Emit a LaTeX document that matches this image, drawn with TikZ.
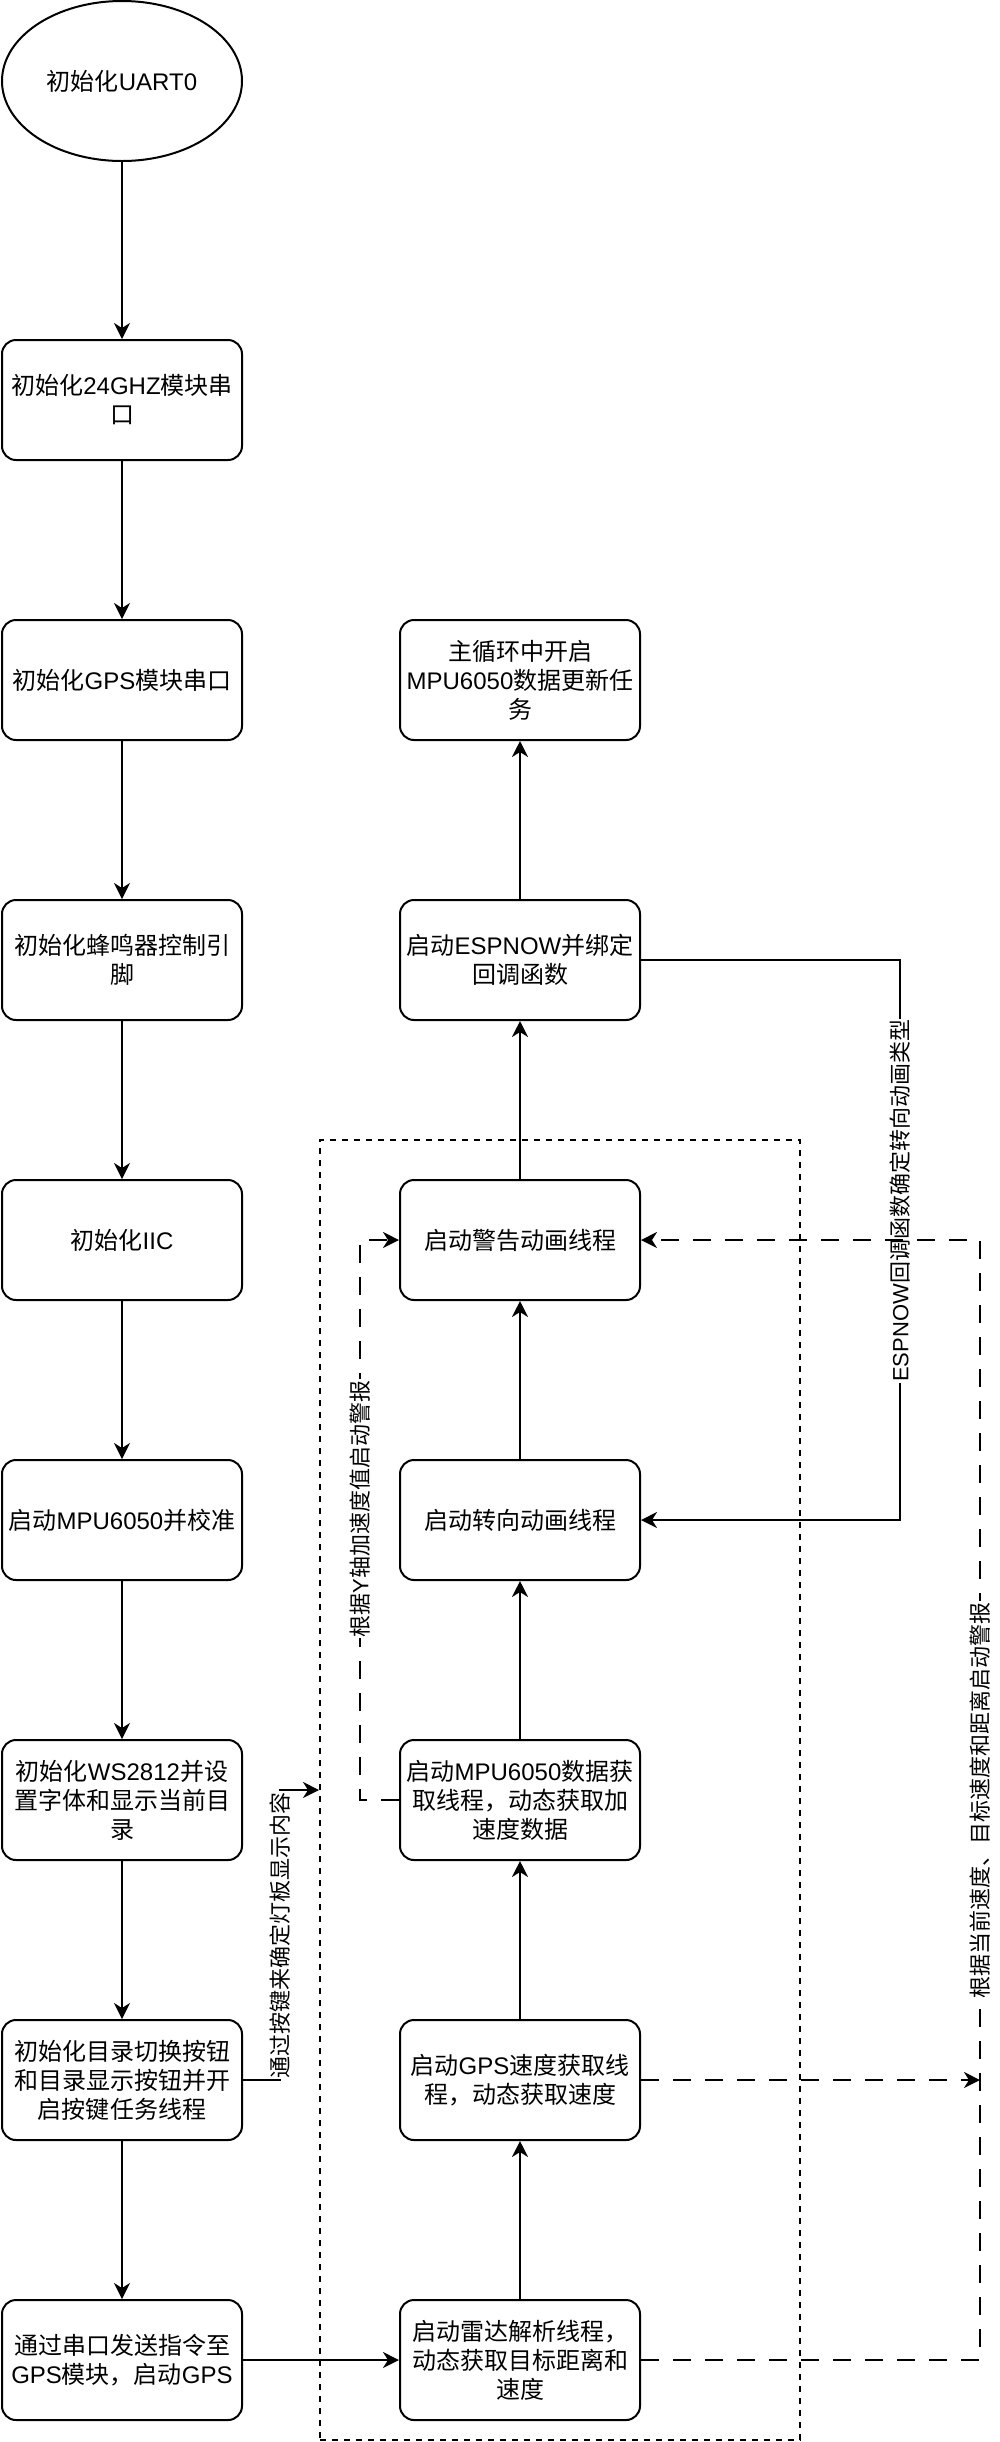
\documentclass[tikz,border=0pt]{standalone}
\usepackage{fontspec}
\setmainfont{Liberation Sans}
\newfontfamily\cjk{Noto Sans CJK SC}
\usetikzlibrary{arrows.meta,shapes.geometric}
% switch to the CJK font for Chinese characters
\newcount\cjkcnt
\newXeTeXintercharclass\cjkclass
\def\setcjkrange#1#2{\cjkcnt=#1 \loop\XeTeXcharclass\cjkcnt=\cjkclass \ifnum\cjkcnt<#2 \advance\cjkcnt by 1 \repeat}
\setcjkrange{"3000}{"303F}
\setcjkrange{"4E00}{"9FFF}
\setcjkrange{"FF00}{"FFEF}
\XeTeXinterchartoks 0 \cjkclass = {\cjk}
\XeTeXinterchartoks 4095 \cjkclass = {\cjk}
\XeTeXinterchartoks \cjkclass 0 = {\rmfamily}
\XeTeXinterchartoks \cjkclass 4095 = {\rmfamily}
\XeTeXinterchartokenstate=1

\tikzset{
  flowbox/.style={draw, line width=1pt, rounded corners=7pt, minimum width=120pt, minimum height=60pt, align=center, inner sep=1pt, font=\fontsize{12}{14.5}\selectfont},
  startnode/.style={draw, line width=1pt, ellipse, minimum width=120pt, minimum height=80pt, inner sep=1pt, font=\fontsize{12}{14.5}\selectfont},
  groupbox/.style={draw, line width=1pt, dash pattern=on 3pt off 3pt, minimum width=240pt, minimum height=650pt, inner sep=0pt},
  link/.style={line width=1pt, -{Stealth[length=8pt,width=8pt,inset=2.5pt]}},
  dashlink/.style={link, dash pattern=on 9pt off 7pt},
  edgetext/.style={rotate=90, fill=white, inner sep=0.5pt, font=\fontsize{11}{13}\selectfont},
}

\begin{document}
\begin{tikzpicture}[x=1pt,y=-1pt]
\useasboundingbox (0,0) rectangle (500,1221);
% Drawing the group of threads
\node[groupbox] (grp) at (280,895) {};
% Left column: init steps
\node[startnode] (uart) at (61,40.5) {初始化UART0};
\node[flowbox] (radarport) at (61,200) {初始化24GHZ模块串\\口};
\node[flowbox] (gpsport) at (61,340) {初始化GPS模块串口};
\node[flowbox] (buzzer) at (61,480) {初始化蜂鸣器控制引\\脚};
\node[flowbox] (iic) at (61,620) {初始化IIC};
\node[flowbox] (mpucal) at (61,760) {启动MPU6050并校准};
\node[flowbox] (ws) at (61,900) {初始化WS2812并设\\置字体和显示当前目\\录};
\node[flowbox] (keys) at (61,1040) {初始化目录切换按钮\\和目录显示按钮并开\\启按键任务线程};
\node[flowbox] (gpsstart) at (61,1180) {通过串口发送指令至\\GPS模块，启动GPS};
% Right column: threads and main loop
\node[flowbox] (mainloop) at (260,340) {主循环中开启\\MPU6050数据更新任\\务};
\node[flowbox] (espnow) at (260,480) {启动ESPNOW并绑定\\回调函数};
\node[flowbox] (warn) at (260,620) {启动警告动画线程};
\node[flowbox] (turn) at (260,760) {启动转向动画线程};
\node[flowbox] (mpuget) at (260,900) {启动MPU6050数据获\\取线程，动态获取加\\速度数据};
\node[flowbox] (gpsspd) at (260,1040) {启动GPS速度获取线\\程，动态获取速度};
\node[flowbox] (radar) at (260,1180) {启动雷达解析线程，\\动态获取目标距离和\\速度};
% Columns where the side connectors bend
\coordinate (keycol) at (140,0);
\coordinate (ycol) at (180,0);
\coordinate (espcol) at (450,0);
\coordinate (alarmcol) at (490,0);
% Done with nodes; drawing connectors
\draw[link] (uart) -- (radarport);
\draw[link] (radarport) -- (gpsport);
\draw[link] (gpsport) -- (buzzer);
\draw[link] (buzzer) -- (iic);
\draw[link] (iic) -- (mpucal);
\draw[link] (mpucal) -- (ws);
\draw[link] (ws) -- (keys);
\draw[link] (keys) -- (gpsstart);
\draw[link] (gpsstart) -- (radar);
\draw[link] (radar) -- (gpsspd);
\draw[link] (gpsspd) -- (mpuget);
\draw[link] (mpuget) -- (turn);
\draw[link] (turn) -- (warn);
\draw[link] (warn) -- (espnow);
\draw[link] (espnow) -- (mainloop);
% Side connectors with labels
\draw[link] (keys.east) -- (keys.east -| keycol) -- (grp.west -| keycol) node[midway, edgetext] {通过按键来确定灯板显示内容} -- (grp.west);
\draw[dashlink] (mpuget.west) -- (mpuget.west -| ycol) -- (warn.west -| ycol) node[pos=0.52, edgetext] {根据Y轴加速度值启动警报} -- (warn.west);
\draw[link] (espnow.east) -- (espnow.east -| espcol) -- (turn.east -| espcol) node[pos=0.43, edgetext] {ESPNOW回调函数确定转向动画类型} -- (turn.east);
\draw[dashlink] (radar.east) -- (radar.east -| alarmcol) -- (warn.east -| alarmcol) node[midway, edgetext] {根据当前速度、目标速度和距离启动警报} -- (warn.east);
\draw[dashlink] (gpsspd.east) -- (gpsspd.east -| alarmcol);
% Done with connectors
\end{tikzpicture}
\end{document}
